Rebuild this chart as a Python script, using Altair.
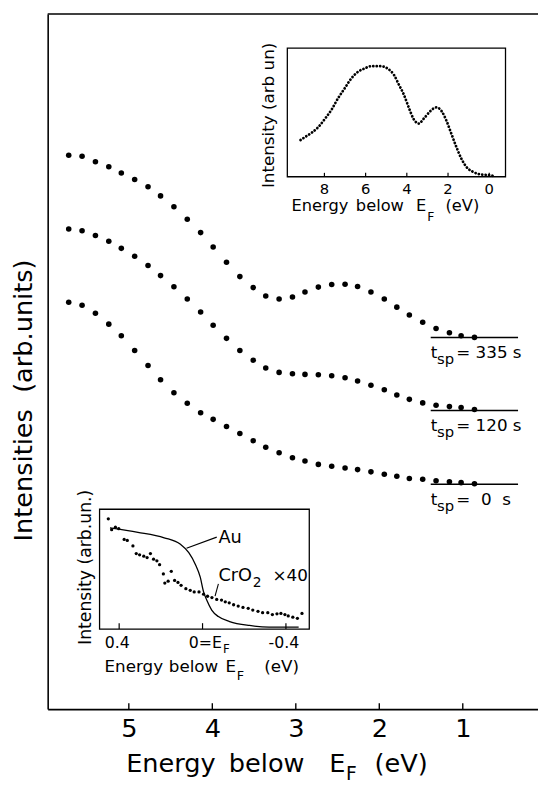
import altair as alt
import pandas as pd

FONT = "DejaVu Sans"
NB = "\u00a0"

# ---------------- main spectra (energy below E_F in eV, intensity arb. units)
energy = [5.72, 5.56, 5.40, 5.24, 5.09, 4.93, 4.77, 4.62, 4.46, 4.30, 4.14, 3.99,
          3.83, 3.67, 3.51, 3.36, 3.20, 3.04, 2.89, 2.73, 2.57, 2.41, 2.26, 2.10,
          1.94, 1.79, 1.64, 1.48, 1.32, 1.16, 1.02, 0.86]
tsp335 = [79.46, 79.32, 78.53, 77.82, 76.92, 75.99, 74.94, 73.63, 72.08, 70.28, 68.36, 66.29,
          64.10, 62.05, 60.47, 59.27, 58.84, 59.12, 59.83, 60.54, 60.92, 60.96, 60.64, 59.83,
          58.84, 57.67, 56.54, 55.51, 54.60, 54.00, 53.57, 53.33]
tsp120 = [68.87, 68.64, 67.94, 67.13, 66.10, 64.97, 63.64, 62.19, 60.59, 58.84, 56.96, 55.08,
          53.19, 51.45, 50.04, 48.95, 48.31, 48.11, 48.02, 47.97, 47.82, 47.54, 47.08, 46.47,
          45.81, 45.06, 44.44, 43.93, 43.59, 43.40, 43.26, 42.98]
tsp0 = [58.38, 57.95, 56.78, 55.23, 53.57, 51.45, 49.29, 47.26, 45.38, 43.87, 42.51, 41.57,
        40.54, 39.55, 38.50, 37.57, 36.77, 36.06, 35.59, 35.11, 34.83, 34.60, 34.36, 34.04,
        33.70, 33.42, 33.09, 32.99, 32.77, 32.63, 32.49, 32.34]
base_levels = [53.32, 42.84, 32.25]
base_from = 1.384
base_to = 0.338
x_ticks = [1, 2, 3, 4, 5]

# ---------------- upper inset: wide valence band spectrum
in1_E = [9.16, 8.92, 8.60, 8.29, 7.97, 7.65, 7.33, 7.01, 6.69, 6.37, 6.05, 5.73, 5.25,
         4.94, 4.62, 4.38, 4.14, 3.90, 3.66, 3.42, 3.18, 2.86, 2.57, 2.31, 2.07, 1.83,
         1.59, 1.35, 1.11, 0.79, 0.47, -0.01, -0.25]
in1_I = [28.56, 31.09, 34.46, 38.74, 45.18, 52.30, 61.26, 68.91, 76.57, 81.62, 84.23, 85.99, 85.99,
         84.23, 79.10, 71.44, 63.78, 53.60, 44.64, 41.35, 45.18, 51.00, 54.06, 51.00, 43.34, 33.15,
         22.97, 14.01, 7.66, 3.83, 1.99, 1.23, 0.46]
in1_ticks = [8, 6, 4, 2, 0]
in1_xdom = [-0.79, 9.80]

# ---------------- lower inset: Fermi edge, Au and CrO2 x40
au_E = [0.444, 0.310, 0.184, 0.106, 0.066, 0.035, 0.011, -0.005, -0.020, -0.044, -0.076,
        -0.130, -0.225, -0.319, -0.461]
au_I = [84.4, 80.8, 76.2, 70.7, 63.8, 54.2, 43.3, 31.0, 24.2, 15.9, 10.4, 6.3, 3.0, 1.6, 1.6]
cro2_E = [0.452, 0.436, 0.418, 0.402, 0.376, 0.361, 0.334, 0.318, 0.302, 0.282, 0.266, 0.250,
          0.235, 0.219, 0.206, 0.188, 0.181, 0.165, 0.150, 0.134, 0.118, 0.103, 0.080, 0.059,
          0.040, 0.017, -0.005, -0.024, -0.045, -0.068, -0.091, -0.109, -0.128, -0.149, -0.171,
          -0.194, -0.219, -0.241, -0.266, -0.288, -0.313, -0.335, -0.357, -0.376, -0.395,
          -0.411, -0.433, -0.455, -0.477]
cro2_I = [92.0, 83.0, 85.0, 83.8, 74.8, 74.0, 69.4, 63.0, 62.0, 60.8, 59.7, 63.0,
          58.3, 57.0, 53.7, 46.0, 38.4, 40.0, 48.2, 40.6, 38.9, 36.5, 33.7, 32.4,
          31.0, 31.0, 29.1, 27.4, 26.3, 24.7, 24.2, 22.8, 21.9, 20.3, 19.2,
          18.1, 17.3, 15.9, 14.8, 13.7, 13.7, 12.1, 12.7, 13.1, 12.1,
          11.0, 9.9, 9.0, 13.1]
in2_ticks = [0.4, -0.4]
in2_tick_labels = ["0.4", "-0.4"]
in2_xdom = [-0.512, 0.494]

# ---------------- data frames
main_df = pd.concat([
    pd.DataFrame({"E": energy, "I": tsp335, "s": "335"}),
    pd.DataFrame({"E": energy, "I": tsp120, "s": "120"}),
    pd.DataFrame({"E": energy, "I": tsp0, "s": "0"}),
])
base_df = pd.DataFrame({"E0": [base_from] * 3, "E1": [base_to] * 3, "I": base_levels})
ONE = pd.DataFrame({"k": [0]})

W, H = 498, 706


def txt(s, x, y, size, align="left", angle=0, baseline="alphabetic"):
    return alt.Chart(ONE).mark_text(
        text=s, font=FONT, fontSize=size, align=align, baseline=baseline,
        angle=angle, color="black"
    ).encode(x=alt.value(x), y=alt.value(y))


def seg(x1, y1, x2, y2, w=1.1):
    return alt.Chart(ONE).mark_rule(color="black", strokeWidth=w).encode(
        x=alt.value(x1), y=alt.value(y1), x2=alt.value(x2), y2=alt.value(y2))


# ---------------- main panel
xs = alt.Scale(domain=[0.099, 5.972], reverse=True, nice=False, zero=False)
ys = alt.Scale(domain=[0, 99.72], nice=False, zero=False)
xax = alt.Axis(values=x_ticks, ticks=False, labelPadding=7, labelFontSize=26, labelFont=FONT,
               labelColor="black", domainColor="black", domainWidth=1.6, grid=False,
               title=None, labelAngle=0)
yax = alt.Axis(ticks=False, labels=False, grid=False, domainColor="black", domainWidth=1.6,
               title="Intensities" + NB + NB + "(arb.units)", titleFont=FONT, titleFontSize=26,
               titleFontWeight="normal", titleColor="black", titleX=-24, titleY=392,
               titleAngle=270, titleAlign="center", titleBaseline="middle")

dots = alt.Chart(main_df).mark_circle(size=32, color="black", opacity=1).encode(
    x=alt.X("E:Q", scale=xs, axis=xax), y=alt.Y("I:Q", scale=ys, axis=yax))
baselines = alt.Chart(base_df).mark_rule(color="black", strokeWidth=1.6).encode(
    x=alt.X("E0:Q", scale=xs, axis=xax), x2="E1:Q", y=alt.Y("I:Q", scale=ys, axis=yax))
ticks = alt.Chart(pd.DataFrame({"t": x_ticks})).mark_rule(color="black", strokeWidth=1.4).encode(
    x=alt.X("t:Q", scale=xs, axis=xax), y=alt.value(H), y2=alt.value(H - 6))
topline = alt.Chart(ONE).mark_rule(color="black", strokeWidth=1.6).encode(
    x=alt.value(0), x2=alt.value(W), y=alt.value(0))

main_text = [
    txt("Energy", 79.7, 770, 26), txt("below", 184, 770, 26),
    txt("E", 286, 770, 26), txt("F", 303, 778, 19), txt("(eV)", 332, 770, 26),
]
for lab, dy in [("= 335 s", 0), ("= 120 s", 75), ("=" + NB + NB + "0" + NB + NB + "s", 150)]:
    main_text += [txt("t", 389, 349 + dy, 17), txt("sp", 395.5, 355 + dy, 15),
                  txt(lab, 415, 349 + dy, 17)]

main = alt.layer(dots, baselines, ticks, topline, *main_text)

# ---------------- upper inset
i1x = alt.Scale(domain=in1_xdom, range=[465, 243.4], nice=False, zero=False)
i1y = alt.Scale(domain=[0, 100], range=[165.3, 34.7], nice=False, zero=False)
frame1 = alt.Chart(pd.DataFrame({"a": [in1_xdom[0]], "b": [in1_xdom[1]], "c": [0], "d": [100]})
                   ).mark_rect(fill="white", fillOpacity=0, stroke="black", strokeWidth=1.3).encode(
    x=alt.X("a:Q", scale=i1x, axis=None), x2="b:Q",
    y=alt.Y("c:Q", scale=i1y, axis=None), y2="d:Q")
curve1 = alt.Chart(pd.DataFrame({"E": in1_E, "I": in1_I})).mark_line(
    color="black", strokeWidth=2.8, strokeDash=[0.1, 3.4], strokeCap="round",
    interpolate="monotone").encode(
    x=alt.X("E:Q", scale=i1x, axis=None), y=alt.Y("I:Q", scale=i1y, axis=None))
tick1 = alt.Chart(pd.DataFrame({"t": in1_ticks})).mark_rule(color="black", strokeWidth=1.2).encode(
    x=alt.X("t:Q", scale=i1x, axis=None), y=alt.value(165.3), y2=alt.value(161.3))
ticklab1 = alt.Chart(pd.DataFrame({"t": in1_ticks, "l": [str(v) for v in in1_ticks]})).mark_text(
    font=FONT, fontSize=15, baseline="alphabetic", align="center", color="black").encode(
    x=alt.X("t:Q", scale=i1x, axis=None), y=alt.value(182.7), text="l:N")
inset1_text = [
    txt("Intensity (arb" + NB + "un)", 224.7, 103, 17, align="center", angle=270, baseline="middle"),
    txt("Energy", 247.7, 200.3, 16.5), txt("below", 313, 200.3, 16.5),
    txt("E", 374, 200.3, 16.5), txt("F", 385.5, 210, 12.5), txt("(eV)", 404, 200.3, 16.5),
]
inset1 = alt.layer(frame1, curve1, tick1, ticklab1, *inset1_text)

# ---------------- lower inset
i2x = alt.Scale(domain=in2_xdom, range=[265.7, 52.7], nice=False, zero=False)
i2y = alt.Scale(domain=[0, 100], range=[624.7, 503], nice=False, zero=False)
frame2 = alt.Chart(pd.DataFrame({"a": [in2_xdom[0]], "b": [in2_xdom[1]], "c": [0], "d": [100]})
                   ).mark_rect(fill="white", fillOpacity=0, stroke="black", strokeWidth=1.3).encode(
    x=alt.X("a:Q", scale=i2x, axis=None), x2="b:Q",
    y=alt.Y("c:Q", scale=i2y, axis=None), y2="d:Q")
au = alt.Chart(pd.DataFrame({"E": au_E, "I": au_I})).mark_line(
    color="black", strokeWidth=1.3, interpolate="monotone").encode(
    x=alt.X("E:Q", scale=i2x, axis=None), y=alt.Y("I:Q", scale=i2y, axis=None))
cro2 = alt.Chart(pd.DataFrame({"E": cro2_E, "I": cro2_I})).mark_circle(
    size=11, color="black", opacity=1).encode(
    x=alt.X("E:Q", scale=i2x, axis=None), y=alt.Y("I:Q", scale=i2y, axis=None))
tick2 = alt.Chart(pd.DataFrame({"t": [0.4, 0.0, -0.4]})).mark_rule(color="black", strokeWidth=1.2).encode(
    x=alt.X("t:Q", scale=i2x, axis=None), y=alt.value(624.7), y2=alt.value(618.7))
ticklab2 = alt.Chart(pd.DataFrame({"t": in2_ticks, "l": in2_tick_labels})).mark_text(
    font=FONT, fontSize=16, baseline="alphabetic", align="center", color="black", dx=-2).encode(
    x=alt.X("t:Q", scale=i2x, axis=None), y=alt.value(643.7), text="l:N")
inset2_text = [
    txt("0=E", 143.2, 643.7, 16), txt("F", 178, 649, 12),
    txt("Intensity (arb.un.)", 39.2, 562, 17.5, align="center", angle=270, baseline="middle"),
    txt("Energy", 57.7, 668.7, 17), txt("below", 123, 668.7, 17), txt("E", 180.5, 668.7, 17),
    txt("F", 192, 676, 13), txt("(eV)", 220, 668.7, 17),
    txt("Au", 173.4, 537, 18),
    txt("CrO", 173.4, 576, 18), txt("2", 208.4, 582, 14), txt("×40", 228.4, 576, 17),
    seg(141, 542.7, 171.7, 531.3), seg(173.4, 578.7, 170, 591.3),
]
inset2 = alt.layer(frame2, au, cro2, tick2, ticklab2, *inset2_text)

chart = alt.layer(main, inset1, inset2).resolve_scale(
    x="independent", y="independent"
).properties(
    width=W, height=H, autosize=alt.AutoSizeParams(type="none"),
    padding={"left": 40.3, "top": 0, "right": 0, "bottom": 74},
).configure_view(strokeOpacity=0)

chart.save("out.html", embed_options={"renderer": "svg", "actions": False})
